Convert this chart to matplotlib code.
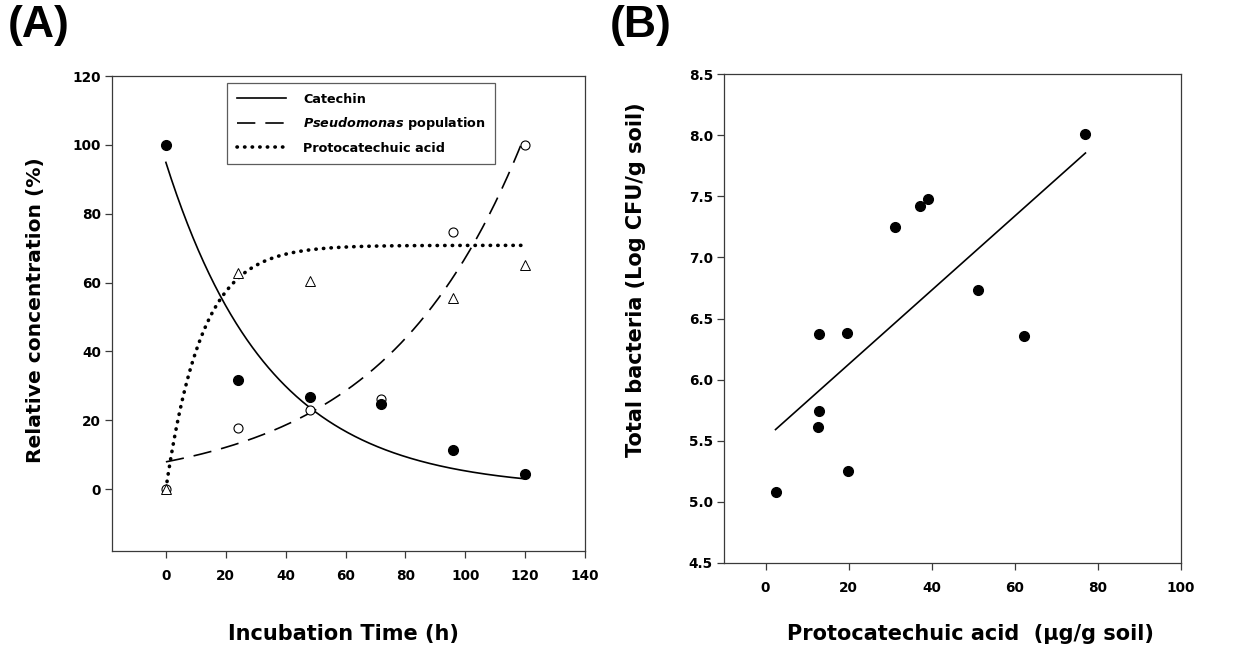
import numpy as np
import matplotlib
matplotlib.use("Agg")
import matplotlib.pyplot as plt

plt.rcParams['font.family'] = ['DejaVu Sans']
plt.rcParams['font.weight'] = 'bold'
plt.rcParams['mathtext.fontset'] = 'custom'
plt.rcParams['mathtext.it'] = 'DejaVu Sans:italic:bold'
plt.rcParams['mathtext.rm'] = 'DejaVu Sans:bold'

# ---------------- Panel A data ----------------
time_h = [0, 24, 48, 72, 96, 120]
catechin = [100, 31.8, 26.6, 24.6, 11.3, 4.5]
pseudomonas = [0, 17.8, 22.9, 26.2, 74.7, 100]
pca_time = [0, 24, 48, 96, 120]
pca = [0, 62.9, 60.5, 55.6, 65.2]

# fitted curve parameters
catechin_fit = (94.9, 0.0289)      # a*exp(-b t)
pseudomonas_fit = (7.9, 0.0214)    # a*exp(b t)
pca_fit = (70.8, 0.083)            # a*(1-exp(-k t))
pseudomonas_fit_end = 119.5

xticks_a = [0, 20, 40, 60, 80, 100, 120, 140]
yticks_a = [0, 20, 40, 60, 80, 100, 120]

# ---------------- Panel B data ----------------
pca_ug = [2.4, 12.9, 12.85, 12.6, 19.7, 19.9, 31.1, 37.1, 39.0, 51.2, 62.2, 77.0]
bacteria = [5.08, 6.37, 5.745, 5.61, 6.38, 5.255, 7.247, 7.424, 7.475, 6.73, 6.36, 8.01]
xticks_b = [0, 20, 40, 60, 80, 100]
yticks_b = [4.5, 5.0, 5.5, 6.0, 6.5, 7.0, 7.5, 8.0, 8.5]

fig = plt.figure(figsize=(12.41, 6.48), dpi=100)
W, H = 1241, 648

def frac_axes(l, t, r, b):
    return fig.add_axes([l / W, 1 - b / H, (r - l) / W, (b - t) / H])

axA = frac_axes(112, 76, 585, 551)
axB = frac_axes(724, 74, 1181, 563)

spine_color = '#3a3a3a'
for ax in (axA, axB):
    for s in ax.spines.values():
        s.set_linewidth(0.9)
        s.set_color(spine_color)
    ax.tick_params(direction='out', length=5, width=0.9, color=spine_color,
                   labelsize=9.8, top=False, right=False)
    ax.tick_params(axis='x', pad=8)
    ax.tick_params(axis='y', pad=3)

# ---- Panel A ----
t = np.linspace(0, 120, 400)
tp = np.linspace(0, pseudomonas_fit_end, 400)
lc, = axA.plot(t, catechin_fit[0] * np.exp(-catechin_fit[1] * t), color='black', lw=1.2,
               label='Catechin')
lp, = axA.plot(tp, pseudomonas_fit[0] * np.exp(pseudomonas_fit[1] * tp), color='black', lw=1.2,
               dashes=(11, 6), label='$Pseudomonas$ population')
lq, = axA.plot(t, pca_fit[0] * (1 - np.exp(-pca_fit[1] * t)), color='black', lw=2.6,
               linestyle=(0, (0.1, 2.0)), dash_capstyle='round', label='Protocatechuic acid')

axA.plot(time_h, pseudomonas, 'o', ms=6.5, mfc='white', mec='black', mew=0.8)
axA.plot(pca_time, pca, '^', ms=6.5, mfc='white', mec='black', mew=0.7)
axA.plot(time_h, catechin, 'o', ms=7, mfc='black', mec='black')

axA.set_xlim(-18, 140)
axA.set_ylim(-18, 120)
axA.set_xticks(xticks_a)
axA.set_yticks(yticks_a)
for lab in axA.get_xticklabels() + axA.get_yticklabels():
    lab.set_fontweight('bold')

leg = axA.legend(handles=[lc, lp, lq], loc='upper left', bbox_to_anchor=(0.243, 0.985),
                 borderaxespad=0, frameon=True, fancybox=False, edgecolor='#333333',
                 handlelength=3.9, handletextpad=1.3, labelspacing=0.75,
                 borderpad=0.75, prop={'weight': 'bold', 'size': 9.2})
leg.get_frame().set_linewidth(0.9)

fig.text(343 / W, 1 - 634 / H, 'Incubation Time (h)', ha='center', va='center',
         fontsize=15, fontweight='bold')
fig.text(36 / W, 1 - 310 / H, 'Relative concentration (%)', ha='center', va='center',
         rotation=90, fontsize=14.6, fontweight='bold')

# ---- Panel B ----
axB.plot(pca_ug, bacteria, 'o', ms=7, mfc='black', mec='black')
coef = np.polyfit(pca_ug, bacteria, 1)
xl = np.array([min(pca_ug), max(pca_ug)])
axB.plot(xl, np.polyval(coef, xl), color='black', lw=1.2)
axB.set_xlim(-10, 100)
axB.set_ylim(4.5, 8.5)
axB.set_xticks(xticks_b)
axB.set_yticks(yticks_b)
axB.set_yticklabels([f'{v:.1f}' for v in yticks_b])
for lab in axB.get_xticklabels() + axB.get_yticklabels():
    lab.set_fontweight('bold')

fig.text(970 / W, 1 - 634 / H, 'Protocatechuic acid  (\u03bcg/g soil)', ha='center', va='center',
         fontsize=15, fontweight='bold')
fig.text(636 / W, 1 - 280 / H, 'Total bacteria (Log CFU/g soil)', ha='center', va='center',
         rotation=90, fontsize=15, fontweight='bold')

# panel letters
for x0, txt in ((8, '(A)'), (610, '(B)')):
    fig.text(x0 / W, 1 - 5 / H, txt, ha='left', va='top', fontsize=32, fontweight='bold',
             family=['Liberation Sans'])

fig.savefig('out.png', dpi=100)
